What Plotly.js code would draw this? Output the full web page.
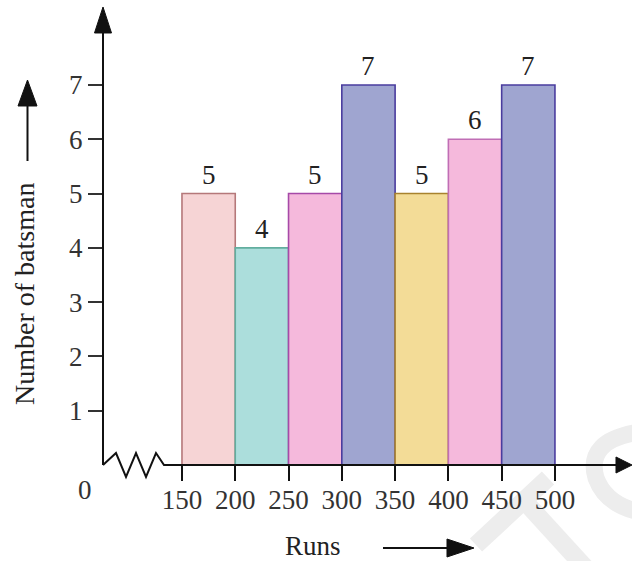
<!DOCTYPE html>
<html>
<head>
<meta charset="utf-8">
<script src="https://cdn.plot.ly/plotly-3.0.1.min.js"></script>
<style>html,body{margin:0;padding:0;background:#fff;}#chart{width:632px;height:561px;}</style>
</head>
<body>
<div id="chart"></div>
<script>
// ---- data ----
const lowerLimits = [150, 200, 250, 300, 350, 400, 450];
const upperLimits = [200, 250, 300, 350, 400, 450, 500];
const batsmen = [5, 4, 5, 7, 5, 6, 7];
const xTickValues = [150, 200, 250, 300, 350, 400, 450, 500];
const yTickValues = [1, 2, 3, 4, 5, 6, 7];
const xTitle = 'Runs';
const yTitle = 'Number of batsman';
const originLabel = '0';

// ---- styles ----
const fillColors = ['#f6d4d5', '#acdedc', '#f5b9dc', '#9fa5d0', '#f3dc97', '#f5b9dc', '#9fa5d0'];
const lineColors = ['#b5787a', '#62ae9f', '#a64aa8', '#4a3c9e', '#a8822e', '#c06eb5', '#4a3c9e'];
const FONT = '"Liberation Serif", "Times New Roman", serif';

const W = 632, H = 561;
const M = {l: 103, r: 0, t: 8, b: 96};
const PW = W - M.l - M.r, PH = H - M.t - M.b;
const px = v => (v - M.l) / PW;           // pixel x -> paper x
const py = v => (H - M.b - v) / PH;        // pixel y -> paper y

const centers = lowerLimits.map((l, i) => (l + upperLimits[i]) / 2);
const widths = lowerLimits.map((l, i) => upperLimits[i] - l);

const trace = {
  type: 'bar',
  x: centers,
  y: batsmen,
  width: widths,
  marker: {color: fillColors, line: {color: lineColors, width: 1.6}},
  hoverinfo: 'x+y',
  showlegend: false
};

function pathFrom(points, close) {
  return points.map((p, i) => (i ? 'L' : 'M') + px(p[0]).toFixed(5) + ',' + py(p[1]).toFixed(5)).join(' ') + (close ? ' Z' : '');
}
const AX = '#111';
const WM = '#ededed';
const shapes = [
  // faint watermark strokes (bottom right)
  {type: 'path', layer: 'below', xref: 'paper', yref: 'paper', path: pathFrom([[476, 545], [548, 478]]), line: {color: WM, width: 18}},
  {type: 'path', layer: 'below', xref: 'paper', yref: 'paper', path: pathFrom([[528, 505], [592, 575]]), line: {color: WM, width: 18}},
  {type: 'path', layer: 'below', xref: 'paper', yref: 'paper',
   path: 'M' + px(640).toFixed(5) + ',' + py(432).toFixed(5) + ' Q' + px(585).toFixed(5) + ',' + py(440).toFixed(5) + ' ' + px(596).toFixed(5) + ',' + py(478).toFixed(5) +
         ' Q' + px(606).toFixed(5) + ',' + py(505).toFixed(5) + ' ' + px(640).toFixed(5) + ',' + py(512).toFixed(5),
   line: {color: WM, width: 17}},
  // y axis line
  {type: 'path', xref: 'paper', yref: 'paper', path: pathFrom([[103, 465], [103, 28]]), line: {color: AX, width: 2}},
  // y axis arrow head
  {type: 'path', xref: 'paper', yref: 'paper', path: pathFrom([[103, 7], [111.5, 33], [94.5, 33]], true), fillcolor: AX, line: {color: AX, width: 1}},
  // zigzag break + x axis line
  {type: 'path', xref: 'paper', yref: 'paper',
   path: pathFrom([[103, 465], [116, 453], [126, 477], [136, 453], [146, 477], [156, 453], [164, 465], [620, 465]]),
   line: {color: AX, width: 2}},
  // x axis arrow head
  {type: 'path', xref: 'paper', yref: 'paper', path: pathFrom([[632, 465], [616, 457], [616, 473]], true), fillcolor: AX, line: {color: AX, width: 1}},
  // y title arrow
  {type: 'path', xref: 'paper', yref: 'paper', path: pathFrom([[27.5, 161], [27.5, 100]]), line: {color: AX, width: 2}},
  {type: 'path', xref: 'paper', yref: 'paper', path: pathFrom([[27.5, 80], [37, 106], [18, 106]], true), fillcolor: AX, line: {color: AX, width: 1}},
  // x title arrow
  {type: 'path', xref: 'paper', yref: 'paper', path: pathFrom([[383, 548], [452, 548]]), line: {color: AX, width: 2}},
  {type: 'path', xref: 'paper', yref: 'paper', path: pathFrom([[474, 548], [447, 539], [447, 557]], true), fillcolor: AX, line: {color: AX, width: 1}}
];

const annotations = batsmen.map((v, i) => ({
  x: centers[i], y: v, xref: 'x', yref: 'y', text: String(v), showarrow: false,
  yanchor: 'middle', yshift: 19, font: {family: FONT, size: 27, color: '#222'}
}));
annotations.push({xref: 'paper', yref: 'paper', x: px(24), y: py(294), text: yTitle, textangle: -90,
  showarrow: false, xanchor: 'center', yanchor: 'middle', font: {family: FONT, size: 28, color: '#222'}});
annotations.push({xref: 'paper', yref: 'paper', x: px(313), y: py(546), text: xTitle,
  showarrow: false, xanchor: 'center', yanchor: 'middle', font: {family: FONT, size: 27, color: '#222'}});
annotations.push({xref: 'paper', yref: 'paper', x: px(85), y: py(490), text: originLabel,
  showarrow: false, xanchor: 'center', yanchor: 'middle', font: {family: FONT, size: 27, color: '#333'}});

const layout = {
  width: W, height: H,
  margin: M,
  paper_bgcolor: '#fff', plot_bgcolor: '#fff',
  bargap: 0,
  xaxis: {
    range: [75.9, 572.3], showgrid: false, zeroline: false, showline: false,
    tickvals: xTickValues, ticktext: xTickValues.map(String),
    ticks: 'outside', ticklen: 15, tickwidth: 2, tickcolor: AX,
    ticklabelstandoff: -4,
    tickfont: {family: FONT, size: 27, color: '#333'}, fixedrange: true
  },
  yaxis: {
    range: [0, 8.418], showgrid: false, zeroline: false, showline: false,
    tickvals: yTickValues, ticktext: yTickValues.map(String),
    ticks: 'outside', ticklen: 14, tickwidth: 2, tickcolor: '#333',
    ticklabelstandoff: 0,
    tickfont: {family: FONT, size: 27, color: '#333'}, fixedrange: true
  },
  shapes: shapes,
  annotations: annotations
};

Plotly.newPlot('chart', [trace], layout, {displayModeBar: false, staticPlot: true});
</script>
</body>
</html>
